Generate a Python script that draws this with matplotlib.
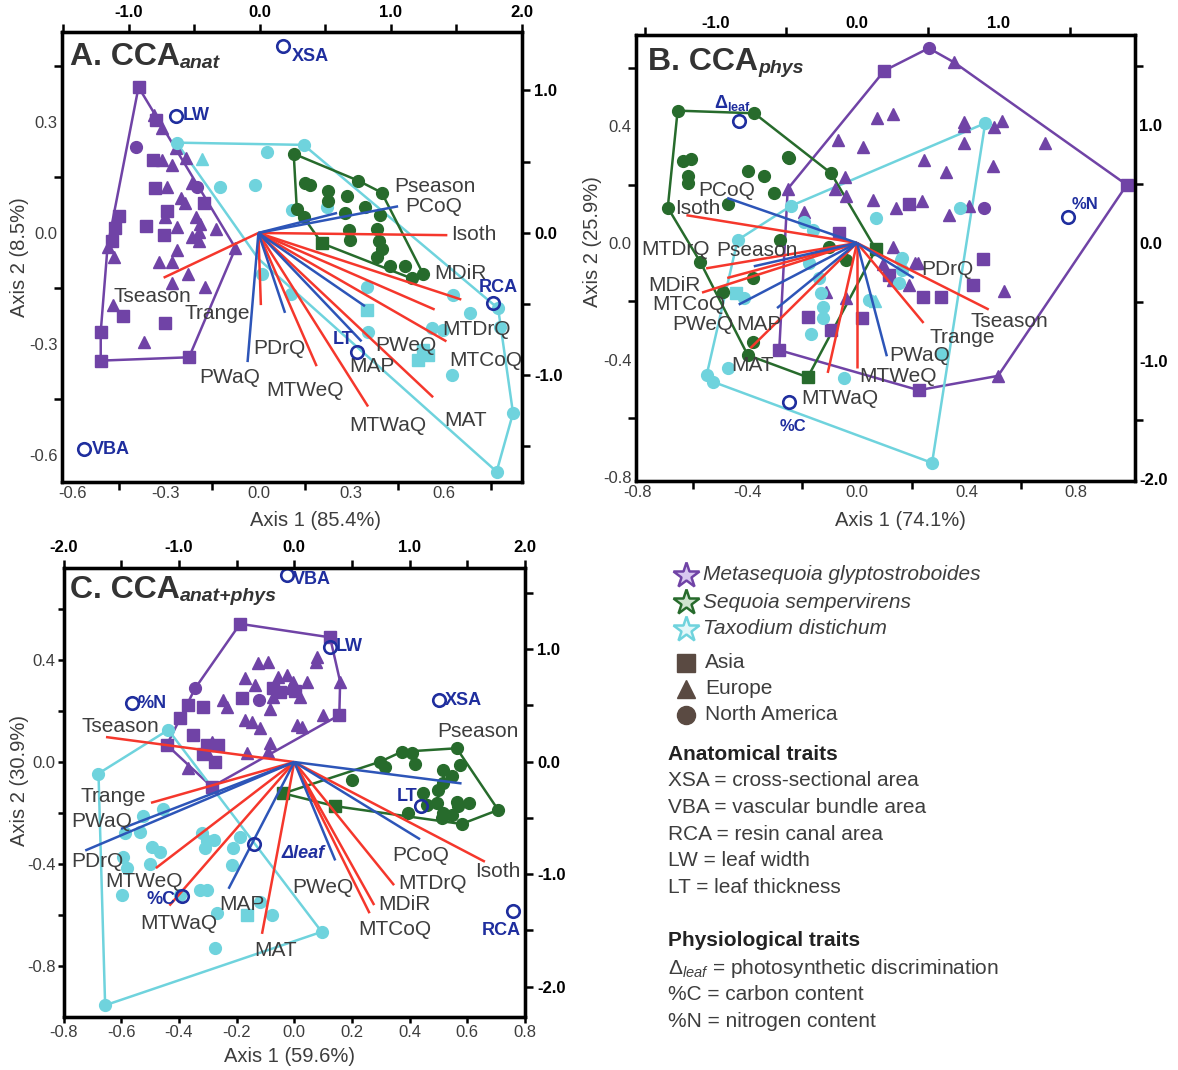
import matplotlib
matplotlib.use('Agg')
import matplotlib.pyplot as plt
import numpy as np
from matplotlib.ticker import FixedLocator

plt.rcParams['font.family'] = ['Liberation Sans', 'DejaVu Sans']
plt.rcParams['axes.unicode_minus'] = False
plt.rcParams['mathtext.fontset'] = 'custom'
plt.rcParams['mathtext.rm'] = 'Liberation Sans'
plt.rcParams['mathtext.it'] = 'Liberation Sans:italic'
plt.rcParams['mathtext.bf'] = 'Liberation Sans:bold'

# ---------------- data ----------------
env_names = ['Isoth', 'MDiR', 'MTDrQ', 'MTCoQ', 'MAT', 'MTWaQ', 'MTWeQ', 'Trange', 'Tseason',
             'Pseason', 'PCoQ', 'PWeQ', 'MAP', 'PDrQ', 'PWaQ']
temp_vars = ['Isoth', 'MDiR', 'MTDrQ', 'MTCoQ', 'MAT', 'MTWaQ', 'MTWeQ', 'Trange', 'Tseason']

# Panel A  (CCA anat)
a_meta_sq = [(-0.387, 0.394), (-0.332, 0.305), (-0.339, 0.197), (-0.335, 0.121), (-0.296, 0.058),
             (-0.176, 0.080), (-0.364, 0.019), (-0.305, -0.005), (-0.450, 0.047), (-0.463, 0.013),
             (-0.474, -0.023), (-0.437, -0.224), (-0.302, -0.242), (-0.509, -0.267), (-0.509, -0.345),
             (-0.224, -0.336)]
a_meta_tri = [(-0.337, 0.319), (-0.310, 0.283), (-0.267, 0.229), (-0.235, 0.202), (-0.278, 0.184),
              (-0.310, 0.197), (-0.294, 0.125), (-0.251, 0.094), (-0.238, 0.080), (-0.214, 0.134),
              (-0.303, 0.044), (-0.262, 0.017), (-0.203, 0.044), (-0.187, 0.024), (-0.192, 0.002),
              (-0.138, 0.012), (-0.214, -0.010), (-0.192, -0.023), (-0.262, -0.046), (-0.321, -0.078),
              (-0.278, -0.078), (-0.228, -0.111), (-0.278, -0.136), (-0.171, -0.145), (-0.471, -0.195),
              (-0.369, -0.296), (-0.487, -0.037), (-0.466, -0.064), (-0.074, -0.041)]
a_meta_ci = [(-0.396, 0.233), (-0.198, 0.125)]
a_meta_hull = [(-0.387, 0.394), (-0.074, -0.041), (-0.224, -0.336), (-0.509, -0.345), (-0.509, -0.267),
               (-0.487, -0.037)]

a_sequ_ci = [(0.114, 0.214), (0.323, 0.141), (0.398, 0.109), (0.151, 0.134), (0.167, 0.130), (0.226, 0.114),
             (0.285, 0.100), (0.226, 0.085), (0.345, 0.069), (0.393, 0.049), (0.280, 0.055), (0.124, 0.064),
             (0.146, 0.042), (0.291, 0.008), (0.382, 0.010), (0.296, -0.019), (0.388, -0.023),
             (0.398, -0.044), (0.382, -0.064), (0.425, -0.089), (0.473, -0.089), (0.495, -0.123),
             (0.532, -0.111)]
a_sequ_sq = [(0.205, -0.028)]
a_sequ_tri = []
a_sequ_hull = [(0.114, 0.214), (0.323, 0.141), (0.398, 0.109), (0.532, -0.111), (0.495, -0.123),
               (0.205, -0.028), (0.146, 0.042), (0.124, 0.064)]

a_taxo_ci = [(-0.264, 0.244), (0.146, 0.238), (0.028, 0.220), (-0.125, 0.125), (-0.010, 0.130),
             (0.108, 0.062), (0.220, 0.070), (0.012, -0.111), (0.104, -0.166), (0.350, -0.145),
             (0.355, -0.267), (0.629, -0.168), (0.683, -0.217), (0.559, -0.258), (0.597, -0.262),
             (0.780, -0.253), (0.624, -0.384), (0.774, -0.204), (0.822, -0.487), (0.769, -0.645)]
a_taxo_sq = [(0.350, -0.208), (0.532, -0.316), (0.548, -0.330), (0.516, -0.343)]
a_taxo_tri = [(-0.181, 0.199)]
a_taxo_hull = [(-0.264, 0.244), (0.146, 0.238), (0.774, -0.204), (0.822, -0.487), (0.769, -0.645),
               (0.0, -0.07)]

a_env_x = [0.610, 0.655, 0.569, 0.607, 0.564, 0.354, 0.188, 0.008, -0.306, 0.254, 0.451, 0.344, 0.333, 0.086, -0.035]
a_env_y = [-0.006, -0.180, -0.207, -0.293, -0.444, -0.469, -0.360, -0.195, -0.121, 0.054, 0.072, -0.198, -0.293, -0.216, -0.349]

a_trait_names = ['XSA', 'LW', 'VBA', 'RCA', 'LT']
a_trait_x = [0.081, -0.265, -0.563, 0.756, 0.317]
a_trait_y = [0.506, 0.315, -0.584, -0.188, -0.322]

# Panel B  (CCA phys)
b_meta_tri = [(0.072, 0.427), (0.130, 0.442), (-0.071, 0.353), (0.021, 0.330), (0.392, 0.415), (0.392, 0.401),
              (0.501, 0.398), (0.531, 0.419), (0.392, 0.341), (0.246, 0.284), (0.325, 0.244), (0.495, 0.264),
              (-0.043, 0.225), (-0.079, 0.184), (-0.040, 0.161), (0.060, 0.147), (0.142, 0.119), (0.237, 0.142),
              (0.337, 0.096), (0.410, 0.128), (-0.192, 0.107), (0.130, -0.015), (0.221, -0.067), (-0.113, -0.167),
              (-0.040, -0.190), (0.094, -0.072), (0.130, -0.127), (0.191, -0.144), (0.537, -0.163), (0.686, 0.342),
              (0.210, -0.070), (0.355, 0.618), (0.515, -0.455), (-0.253, 0.185)]
b_meta_sq = [(0.100, 0.590), (0.191, 0.134), (-0.065, 0.035), (0.116, -0.110), (0.240, -0.184), (0.306, -0.184),
             (0.422, -0.144), (0.459, -0.056), (-0.180, -0.252), (-0.095, -0.298), (0.020, -0.258),
             (-0.284, -0.367), (0.225, -0.504), (0.985, 0.199)]
b_meta_ci = [(0.262, 0.667), (0.465, 0.119)]
b_meta_hull = [(0.100, 0.590), (0.262, 0.667), (0.355, 0.618), (0.985, 0.199), (0.515, -0.455), (0.225, -0.504),
               (-0.284, -0.367), (-0.253, 0.185)]

b_sequ_ci = [(-0.655, 0.453), (-0.375, 0.444), (-0.095, 0.239), (-0.399, -0.384), (-0.573, -0.064),
             (-0.691, 0.121), (-0.636, 0.279), (-0.606, 0.288), (-0.618, 0.229), (-0.618, 0.204),
             (-0.399, 0.248), (-0.338, 0.229), (-0.253, 0.296), (-0.247, 0.290), (-0.302, 0.170),
             (-0.472, 0.134), (-0.283, 0.010), (-0.381, -0.121), (-0.488, -0.167), (-0.381, -0.338),
             (-0.101, -0.013), (-0.040, -0.058)]
b_sequ_sq = [(0.069, -0.022), (-0.180, -0.460)]
b_sequ_tri = []
b_sequ_hull = [(-0.655, 0.453), (-0.375, 0.444), (-0.095, 0.239), (0.069, -0.022), (-0.180, -0.460),
               (-0.399, -0.384), (-0.573, -0.064), (-0.691, 0.121)]

b_taxo_ci = [(0.468, 0.410), (-0.241, 0.127), (-0.436, 0.010), (-0.549, -0.452), (-0.527, -0.475),
             (0.274, -0.753), (-0.192, 0.073), (-0.162, 0.045), (0.069, 0.085), (0.166, -0.053),
             (0.166, -0.093), (0.154, -0.138), (-0.174, -0.070), (-0.138, -0.121), (-0.131, -0.173),
             (-0.125, -0.218), (-0.168, -0.310), (-0.125, -0.258), (-0.411, -0.190), (-0.472, -0.429),
             (-0.046, -0.464), (0.376, 0.119), (0.045, -0.196), (0.310, -0.380), (0.160, -0.058)]
b_taxo_sq = [(-0.442, -0.173)]
b_taxo_tri = [(0.065, -0.200)]
b_taxo_hull = [(0.468, 0.410), (-0.241, 0.127), (-0.436, 0.010), (-0.549, -0.452), (-0.527, -0.475),
               (0.274, -0.753)]

b_env_x = [-0.623, -0.566, -0.551, -0.474, -0.389, -0.107, 0.000, 0.243, 0.481, -0.377, -0.474, -0.432, -0.292, 0.207, 0.109]
b_env_y = [0.095, -0.170, -0.087, -0.120, -0.360, -0.445, -0.428, -0.274, -0.228, -0.080, 0.154, -0.211, -0.223, -0.120, -0.388]

b_trait_names = ['Δleaf', '%C', '%N']
b_trait_x = [-0.432, -0.247, 0.770]
b_trait_y = [0.418, -0.543, 0.089]

# Panel C  (CCA anat+phys)
c_meta_tri = [(-0.125, 0.387), (-0.090, 0.394), (-0.171, 0.328), (-0.136, 0.302), (-0.055, 0.335),
              (-0.026, 0.342), (-0.003, 0.315), (0.043, 0.315), (-0.015, 0.289), (0.020, 0.257),
              (-0.073, 0.257), (-0.084, 0.207), (-0.246, 0.243), (-0.234, 0.217), (-0.171, 0.165),
              (-0.148, 0.158), (-0.119, 0.132), (0.008, 0.145), (0.026, 0.139), (0.101, 0.185),
              (0.077, 0.413), (0.075, 0.394), (-0.286, 0.080), (-0.304, 0.041), (-0.084, 0.073),
              (-0.165, 0.034), (-0.367, -0.025), (0.159, 0.315), (-0.090, 0.041)]
c_meta_sq = [(-0.367, 0.224), (-0.315, 0.217), (-0.182, 0.250), (-0.073, 0.289), (-0.050, 0.276),
             (0.003, 0.280), (-0.350, 0.106), (-0.304, 0.067), (-0.263, 0.067), (-0.315, 0.032),
             (-0.275, -0.001), (-0.286, -0.097), (-0.396, 0.171), (-0.442, 0.067), (0.156, 0.184),
             (-0.188, 0.542), (0.124, 0.489)]
c_meta_ci = [(-0.121, 0.243), (-0.344, 0.289)]
c_meta_hull = [(-0.188, 0.542), (0.124, 0.489), (0.159, 0.315), (0.156, 0.184), (-0.286, -0.097),
               (-0.442, 0.067), (-0.396, 0.171), (-0.344, 0.289)]

c_sequ_ci = [(0.372, 0.040), (0.407, 0.037), (0.563, 0.054), (0.297, 0.001), (0.314, -0.018), (0.418, -0.008),
             (0.517, -0.031), (0.575, -0.012), (0.199, -0.071), (0.546, -0.055), (0.517, -0.081),
             (0.499, -0.110), (0.447, -0.123), (0.494, -0.160), (0.459, -0.169), (0.563, -0.156),
             (0.607, -0.162), (0.569, -0.173), (0.517, -0.201), (0.546, -0.208), (0.395, -0.201),
             (0.511, -0.221), (0.580, -0.243), (0.707, -0.188)]
c_sequ_sq = [(0.141, -0.173), (-0.038, -0.123)]
c_sequ_tri = []
c_sequ_hull = [(-0.038, -0.123), (0.297, 0.001), (0.372, 0.040), (0.563, 0.054), (0.707, -0.188),
               (0.580, -0.243), (0.141, -0.173)]

c_taxo_ci = [(-0.437, 0.126), (-0.679, -0.045), (-0.656, -0.954), (0.095, -0.666), (-0.454, -0.186),
             (-0.523, -0.212), (-0.535, -0.273), (-0.587, -0.280), (-0.494, -0.335), (-0.466, -0.352),
             (-0.593, -0.371), (-0.500, -0.398), (-0.581, -0.417), (-0.321, -0.280), (-0.304, -0.309),
             (-0.310, -0.339), (-0.278, -0.306), (-0.211, -0.339), (-0.188, -0.293), (-0.217, -0.404),
             (-0.327, -0.502), (-0.304, -0.502), (-0.599, -0.522), (-0.396, -0.522), (-0.269, -0.594),
             (-0.119, -0.548), (-0.078, -0.600), (-0.275, -0.731)]
c_taxo_sq = [(-0.165, -0.600)]
c_taxo_tri = []
c_taxo_hull = [(-0.437, 0.126), (-0.679, -0.045), (-0.656, -0.954), (0.095, -0.666)]

c_env_x = [0.661, 0.277, 0.346, 0.261, -0.112, -0.433, -0.480, -0.497, -0.653, 0.580, 0.436, 0.142, -0.228, -0.725, -0.601]
c_env_y = [-0.391, -0.561, -0.483, -0.593, -0.674, -0.563, -0.416, -0.160, 0.098, -0.084, -0.303, -0.386, -0.497, -0.347, -0.262]

c_trait_names = ['VBA', 'LW', '%N', 'XSA', 'LT', 'Δleaf', '%C', 'RCA']
c_trait_x = [-0.024, 0.124, -0.564, 0.503, 0.438, -0.139, -0.391, 0.759]
c_trait_y = [0.733, 0.453, 0.230, 0.242, -0.173, -0.323, -0.525, -0.583]

# ---------------- style / layout ----------------
PURPLE = '#7043a6'
GREEN = '#276b2c'
CYAN = '#6fd3dd'
RED = '#f5372c'
BLUE = '#2d55b8'
TRAIT = '#1f2e9e'
LABEL = '#3d3d3d'
W, H = 1178, 1070

fig = plt.figure(figsize=(W / 100, H / 100), dpi=100)


def rect(l, t, r, b):
    return [l / W, 1 - b / H, (r - l) / W, (b - t) / H]


def fmt(v):
    return f'{v:.1f}'


def set_axis(axis, labels, ticks):
    axis.set_major_locator(FixedLocator(labels))
    axis.set_ticklabels([fmt(v) for v in labels])
    on_tick = all(any(np.isclose(l, t) for t in ticks) for l in labels)
    minor = [t for t in ticks if not any(np.isclose(t, l) for l in labels)]
    axis.set_minor_locator(FixedLocator(minor))
    return on_tick


def make_panel(r, xlim, ylim, bx, bxt, ly, lyt, tlim, tx, txt, rlim, ry, ryt, tlen=6):
    ax = fig.add_axes(rect(*r))
    ax.set_xlim(xlim)
    ax.set_ylim(ylim)
    for s in ax.spines.values():
        s.set_linewidth(2.3)
    onx = set_axis(ax.xaxis, bx, bxt)
    ony = set_axis(ax.yaxis, ly, lyt)
    ax.tick_params(axis='x', which='major', length=tlen if onx else 0, width=1.8, labelsize=12,
                   labelcolor=LABEL, pad=2 if onx else 3, direction='out')
    ax.tick_params(axis='y', which='major', length=tlen if ony else 0, width=1.8, labelsize=12,
                   labelcolor=LABEL, pad=2 if ony else 3, direction='out')
    ax.tick_params(which='minor', length=tlen, width=1.8, direction='out')
    axt = ax.twiny()
    axt.set_xlim(tlim)
    ont = set_axis(axt.xaxis, tx, txt)
    axt.tick_params(axis='x', which='major', length=6 if ont else 0, width=1.8, labelsize=12, pad=3)
    axt.tick_params(axis='x', which='minor', length=6, width=1.8)
    for lab in axt.get_xticklabels():
        lab.set_fontweight('bold')
    axr = ax.twinx()
    axr.set_ylim(rlim)
    onr = set_axis(axr.yaxis, ry, ryt)
    axr.tick_params(axis='y', which='major', length=6 if onr else 0, width=1.8, labelsize=12, pad=3)
    axr.tick_params(axis='y', which='minor', length=6, width=1.8)
    for lab in axr.get_yticklabels():
        lab.set_fontweight('bold')
    for a in (axt, axr):
        for s in a.spines.values():
            s.set_linewidth(2.3)
    return ax


def draw_species(ax, sq, tri, ci, hull, color):
    h = np.array(hull + [hull[0]])
    ax.plot(h[:, 0], h[:, 1], color=color, lw=1.8, zorder=2)
    for pts, m, ms in ((sq, 's', 8), (tri, '^', 8), (ci, 'o', 8.5)):
        if pts:
            p = np.array(pts)
            ax.plot(p[:, 0], p[:, 1], ls='none', marker=m, ms=ms, mfc=color, mec=color, zorder=3)


def draw_env(ax, xs, ys, labpos):
    for n, x, y in zip(env_names, xs, ys):
        c = RED if n in temp_vars else BLUE
        ax.plot([0, x], [0, y], color=c, lw=1.8, zorder=4, solid_capstyle='butt')
    for n in env_names:
        lx, ly = labpos[n]
        ax.text(lx, ly, n, ha='left', va='center', fontsize=15, color=LABEL, zorder=6)


def draw_traits(ax, names, xs, ys, labpos):
    ax.plot(xs, ys, ls='none', marker='o', ms=9, mfc='none', mec=TRAIT, mew=1.9, zorder=7)
    for n in names:
        lx, ly, ha, txt, kw = labpos[n]
        ax.text(lx, ly, txt, ha=ha, va='center', color=TRAIT, zorder=7, **kw)


def title(ax, x, y, main, sub):
    t = ax.text(x, y, main, transform=ax.transAxes, fontsize=23, fontweight='bold', color='#333333',
                va='center', ha='left', zorder=8)
    ax.annotate(sub, xy=(1.0, 0.0), xycoords=t, fontsize=14, fontweight='bold', fontstyle='italic',
                color='#333333', va='bottom', ha='left', zorder=8)


TB = dict(fontsize=13, fontweight='bold')

# ---------------- panel A ----------------
axA = make_panel((61.7, 32, 521.7, 482), (-0.635, 0.850), (-0.673, 0.543),
                 [-0.6, -0.3, 0.0, 0.3, 0.6], [-0.45, -0.15, 0.15, 0.45, 0.75],
                 [0.3, 0.0, -0.3, -0.6], [0.45, 0.15, -0.15, -0.45],
                 (-1.51, 2.0), [-1.0, 0.0, 1.0, 2.0], [-1.5, -1.0, -0.5, 0, 0.5, 1.0, 1.5, 2.0],
                 (-1.75, 1.41), [1.0, 0.0, -1.0], [1.0, 0.5, 0.0, -0.5, -1.0, -1.5])
draw_species(axA, a_meta_sq, a_meta_tri, a_meta_ci, a_meta_hull, PURPLE)
draw_species(axA, a_taxo_sq, a_taxo_tri, a_taxo_ci, a_taxo_hull, CYAN)
draw_species(axA, a_sequ_sq, a_sequ_tri, a_sequ_ci, a_sequ_hull, GREEN)
draw_env(axA, a_env_x, a_env_y, {
    'Pseason': (0.438, 0.125), 'PCoQ': (0.473, 0.072), 'Isoth': (0.623, -0.005), 'MDiR': (0.568, -0.109),
    'MTDrQ': (0.594, -0.262), 'MTCoQ': (0.617, -0.345), 'PWeQ': (0.378, -0.304), 'MAP': (0.294, -0.36),
    'MAT': (0.600, -0.506), 'MTWaQ': (0.294, -0.521), 'MTWeQ': (0.025, -0.425), 'PWaQ': (-0.19, -0.39),
    'PDrQ': (-0.017, -0.313), 'Trange': (-0.237, -0.219), 'Tseason': (-0.467, -0.172)})
draw_traits(axA, a_trait_names, a_trait_x, a_trait_y, {
    'XSA': (0.108, 0.478, 'left', 'XSA', TB), 'LW': (-0.245, 0.318, 'left', 'LW', TB),
    'VBA': (-0.537, -0.584, 'left', 'VBA', TB), 'RCA': (0.773, -0.148, 'center', 'RCA', TB),
    'LT': (0.275, -0.287, 'center', 'LT', TB)})
title(axA, 0.018, 0.944, 'A. CCA', 'anat')

# ---------------- panel B ----------------
axB = make_panel((636, 35, 1135, 481), (-0.807, 1.015), (-0.815, 0.712),
                 [-0.8, -0.4, 0.0, 0.4, 0.8], [-0.6, -0.2, 0.2, 0.6],
                 [0.4, 0.0, -0.4, -0.8], [0.6, 0.2, -0.2, -0.6],
                 (-1.56, 1.96), [-1.0, 0.0, 1.0], [-1.5, -0.5, 0.5, 1.5],
                 (-2.02, 1.76), [1.0, 0.0, -1.0, -2.0], [1.5, 0.5, -0.5, -1.5])
draw_species(axB, b_meta_sq, b_meta_tri, b_meta_ci, b_meta_hull, PURPLE)
draw_species(axB, b_taxo_sq, b_taxo_tri, b_taxo_ci, b_taxo_hull, CYAN)
draw_species(axB, b_sequ_sq, b_sequ_tri, b_sequ_ci, b_sequ_hull, GREEN)
draw_env(axB, b_env_x, b_env_y, {
    'PCoQ': (-0.581, 0.181), 'Isoth': (-0.663, 0.119), 'MTDrQ': (-0.788, -0.024), 'Pseason': (-0.515, -0.026),
    'MDiR': (-0.764, -0.144), 'MTCoQ': (-0.746, -0.212), 'PWeQ': (-0.673, -0.278), 'MAP': (-0.442, -0.278),
    'MAT': (-0.460, -0.418), 'MTWaQ': (-0.204, -0.532), 'MTWeQ': (0.008, -0.458), 'PWaQ': (0.118, -0.384),
    'Trange': (0.264, -0.322), 'Tseason': (0.416, -0.268), 'PDrQ': (0.233, -0.090)})
draw_traits(axB, b_trait_names, b_trait_x, b_trait_y, {
    'Δleaf': (-0.454, 0.478, 'center', r'$\mathbf{\Delta}_{\mathbf{leaf}}$', dict(fontsize=13)),
    '%C': (-0.235, -0.629, 'center', '%C', dict(fontsize=12, fontweight='bold')),
    '%N': (0.832, 0.130, 'center', '%N', dict(fontsize=12, fontweight='bold'))})
title(axB, 0.024, 0.94, 'B. CCA', 'phys')

# ---------------- panel C ----------------
axC = make_panel((63.6, 568, 525, 1017), (-0.8, 0.8), (-1.0, 0.761),
                 [-0.8, -0.6, -0.4, -0.2, 0.0, 0.2, 0.4, 0.6, 0.8], [-0.8, -0.6, -0.4, -0.2, 0.0, 0.2, 0.4, 0.6, 0.8],
                 [0.4, 0.0, -0.4, -0.8], [0.6, 0.4, 0.2, 0.0, -0.2, -0.4, -0.6, -0.8],
                 (-2.0, 2.0), [-2.0, -1.0, 0.0, 1.0, 2.0], [-2.0, -1.5, -1.0, -0.5, 0, 0.5, 1.0, 1.5, 2.0],
                 (-2.27, 1.72), [1.0, 0.0, -1.0, -2.0], [1.5, 1.0, 0.5, 0.0, -0.5, -1.0, -1.5, -2.0], tlen=4)
draw_species(axC, c_meta_sq, c_meta_tri, c_meta_ci, c_meta_hull, PURPLE)
draw_species(axC, c_taxo_sq, c_taxo_tri, c_taxo_ci, c_taxo_hull, CYAN)
draw_species(axC, c_sequ_sq, c_sequ_tri, c_sequ_ci, c_sequ_hull, GREEN)
draw_env(axC, c_env_x, c_env_y, {
    'Tseason': (-0.737, 0.141), 'Trange': (-0.743, -0.136), 'PWaQ': (-0.772, -0.234), 'PDrQ': (-0.772, -0.392),
    'MTWeQ': (-0.656, -0.470), 'MTWaQ': (-0.535, -0.633), 'MAP': (-0.260, -0.557), 'MAT': (-0.140, -0.738),
    'PWeQ': (-0.006, -0.492), 'PCoQ': (0.341, -0.365), 'Isoth': (0.627, -0.430), 'MTDrQ': (0.361, -0.476),
    'MDiR': (0.290, -0.557), 'MTCoQ': (0.221, -0.656), 'Pseason': (0.494, 0.119)})
draw_traits(axC, c_trait_names, c_trait_x, c_trait_y, {
    'VBA': (-0.005, 0.716, 'left', 'VBA', TB), 'LW': (0.143, 0.453, 'left', 'LW', TB),
    '%N': (-0.545, 0.230, 'left', '%N', TB), 'XSA': (0.523, 0.242, 'left', 'XSA', TB),
    'LT': (0.39, -0.136, 'center', 'LT', TB),
    'Δleaf': (-0.044, -0.358, 'left', 'Δleaf', dict(fontsize=13, fontweight='bold', fontstyle='italic')),
    '%C': (-0.41, -0.54, 'right', '%C', TB), 'RCA': (0.717, -0.660, 'center', 'RCA', TB)})
title(axC, 0.014, 0.951, 'C. CCA', 'anat+phys')

# ---------------- axis titles ----------------
def ftext(px, py, s, **kw):
    fig.text(px / W, 1 - py / H, s, ha='center', va='center', color=LABEL, **kw)

ftext(316, 520, 'Axis 1 (85.4%)', fontsize=14.5)
ftext(20, 257, 'Axis 2 (8.5%)', fontsize=14.5, rotation=90)
ftext(900, 520, 'Axis 1 (74.1%)', fontsize=14.5)
ftext(592, 242, 'Axis 2 (25.9%)', fontsize=14.5, rotation=90)
ftext(290, 1057, 'Axis 1 (59.6%)', fontsize=14.5)
ftext(20, 780, 'Axis 2 (30.9%)', fontsize=14.5, rotation=90)

# ---------------- legend ----------------
lg = fig.add_axes([0, 0, 1, 1])
lg.set_xlim(0, W)
lg.set_ylim(H, 0)
lg.axis('off')
species = ['Metasequoia glyptostroboides', 'Sequoia sempervirens', 'Taxodium distichum']
sp_colors = [PURPLE, GREEN, CYAN]
sp_fill = ['#d9c8f0', '#cfe3cf', '#e3f7f9']
for i, (s, c, f) in enumerate(zip(species, sp_colors, sp_fill)):
    y = 575 + 27 * i
    lg.plot(686, y, marker='*', ms=19, mfc=f, mec=c, mew=1.8)
    lg.text(703, y, s, fontsize=15, fontstyle='italic', color=LABEL, va='center', ha='left')
regions = ['Asia', 'Europe', 'North America']
for i, (r, m) in enumerate(zip(regions, ['s', '^', 'o'])):
    y = 663 + 26 * i
    lg.plot(686, y, marker=m, ms=13 if m != 's' else 12.5, mfc='#5a4a42', mec='#5a4a42')
    lg.text(705, y, r, fontsize=15, color=LABEL, va='center', ha='left')
lg.text(668, 754, 'Anatomical traits', fontsize=15, fontweight='bold', color='#222222', va='center')
anat = ['XSA = cross-sectional area', 'VBA = vascular bundle area', 'RCA = resin canal area',
        'LW = leaf width', 'LT = leaf thickness']
for i, s in enumerate(anat):
    lg.text(668, 781 + 26.6 * i, s, fontsize=15, color=LABEL, va='center')
lg.text(668, 941, 'Physiological traits', fontsize=15, fontweight='bold', color='#222222', va='center')
phys = [r'$\Delta_{leaf}$ = photosynthetic discrimination', '%C = carbon content', '%N = nitrogen content']
for i, s in enumerate(phys):
    lg.text(668, 968 + 26.6 * i, s, fontsize=15, color=LABEL, va='center')

fig.savefig('out.png', dpi=100)
